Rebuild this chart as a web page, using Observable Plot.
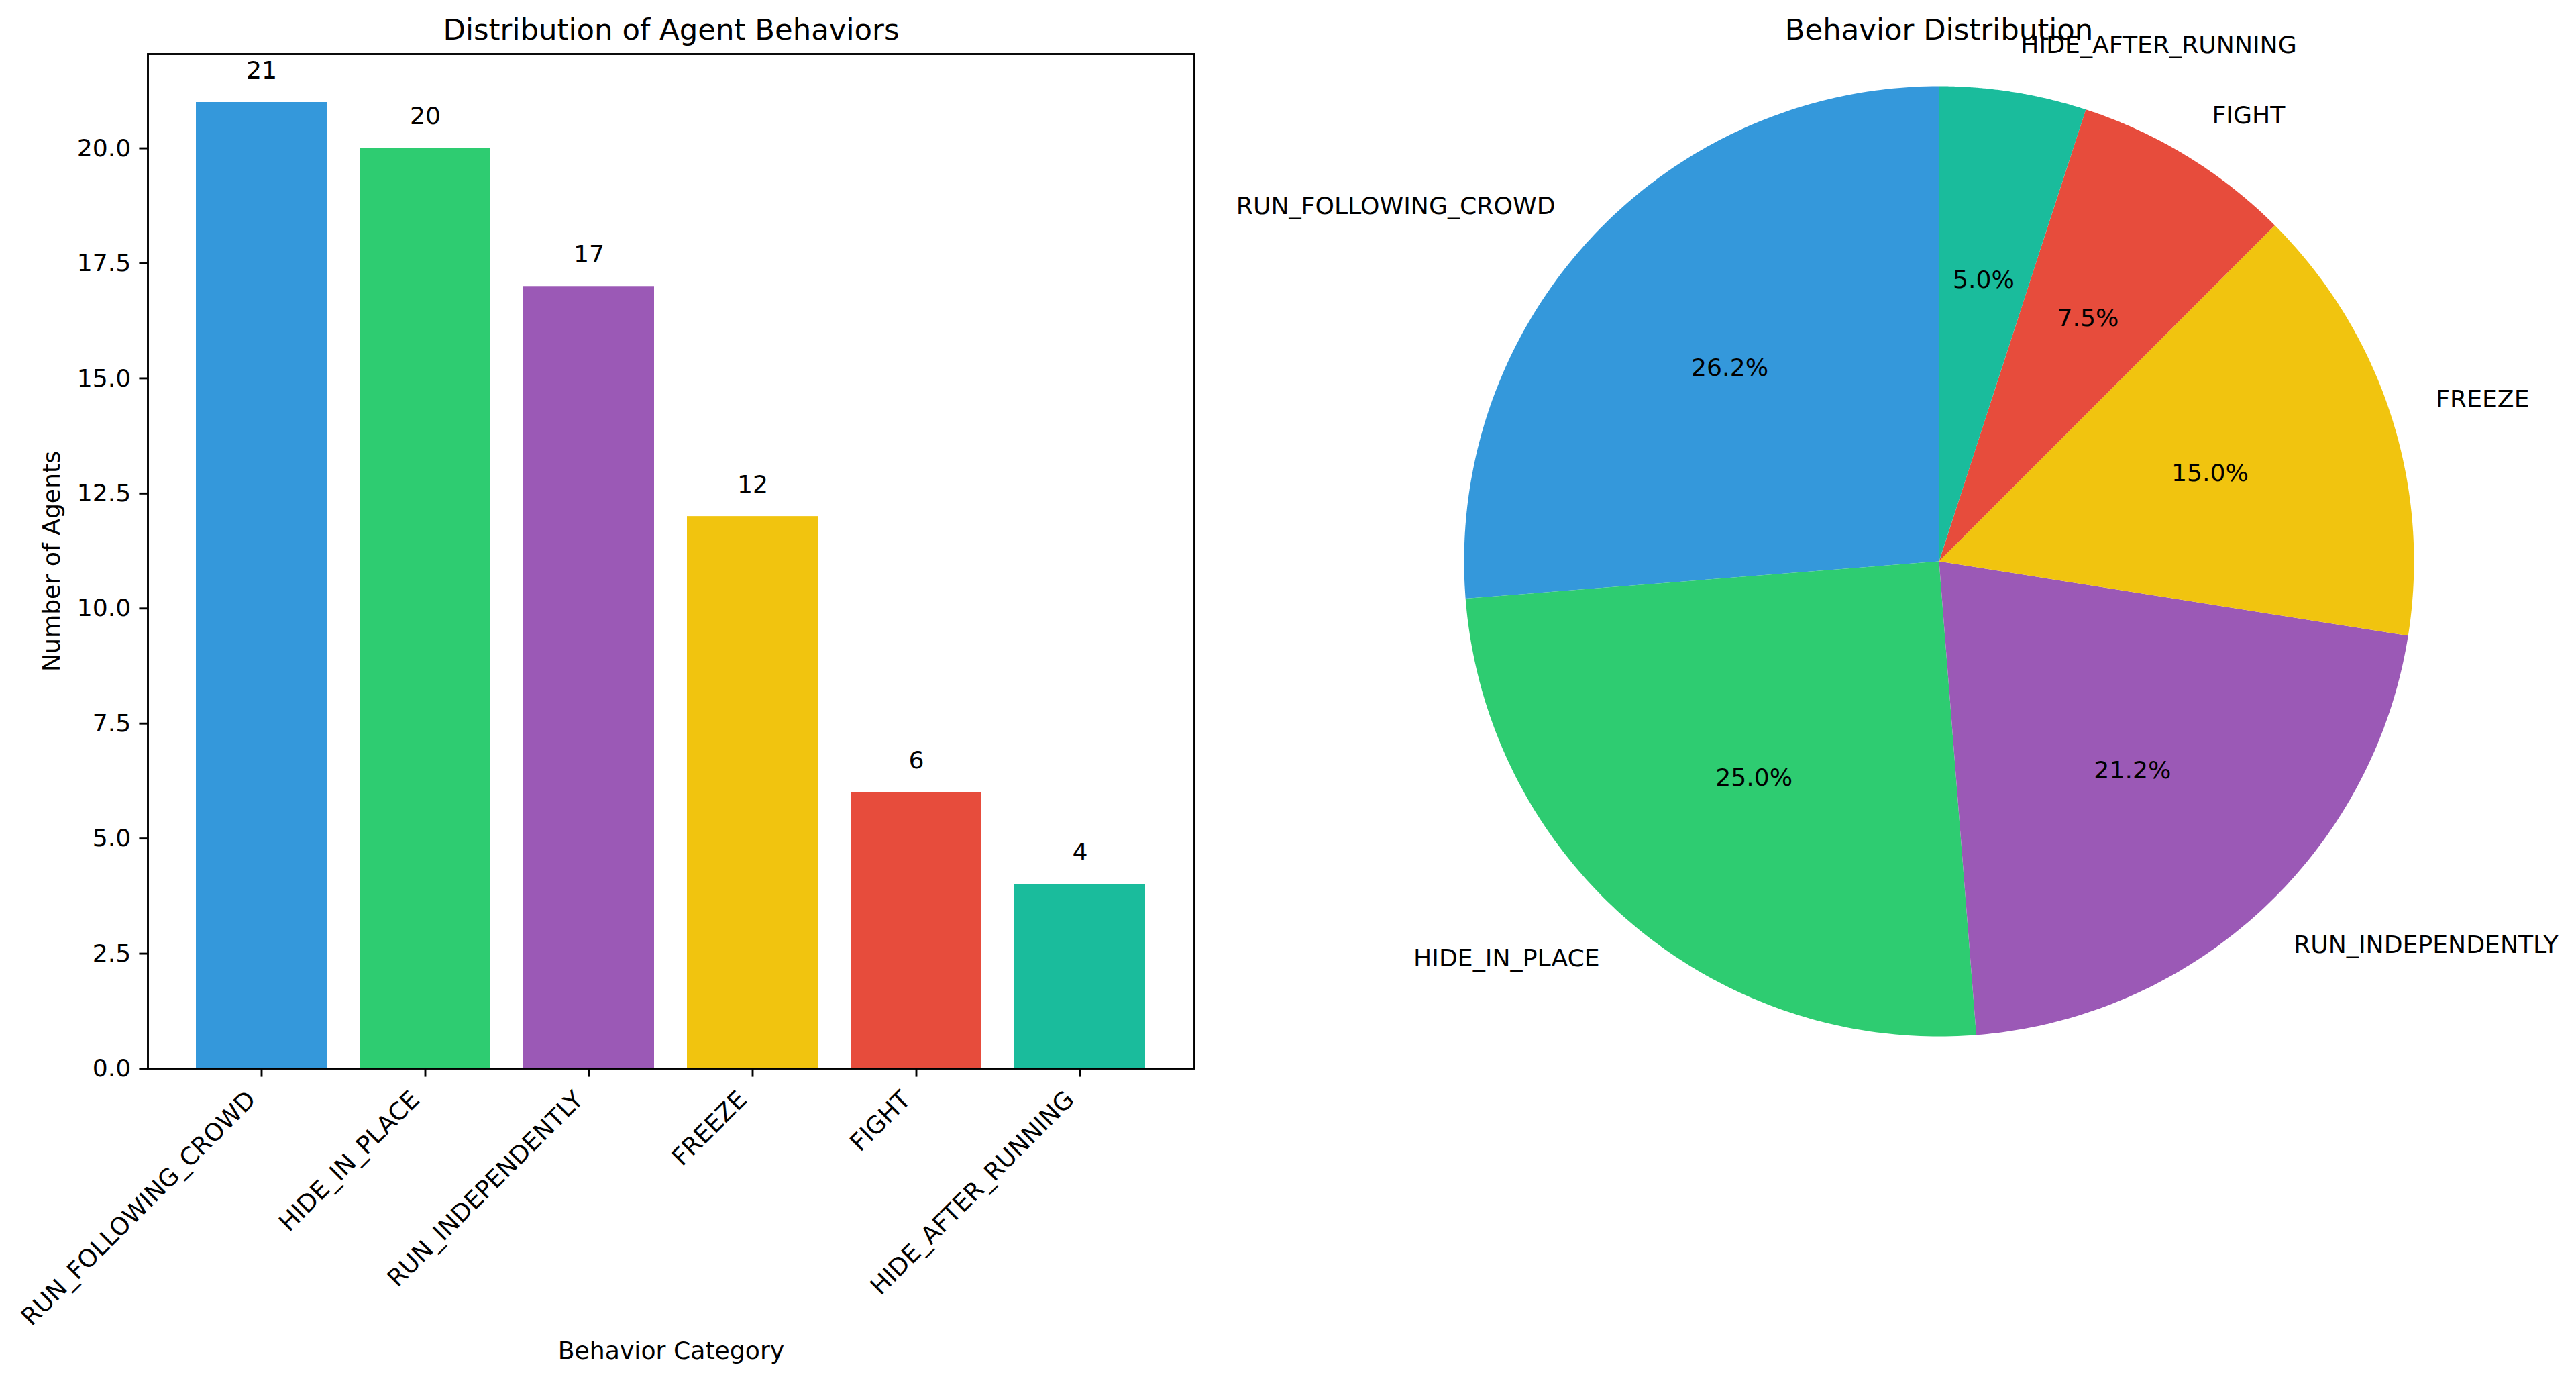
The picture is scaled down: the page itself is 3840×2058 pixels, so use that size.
<!DOCTYPE html>
<html>
<head>
<meta charset="utf-8">
<script src="https://cdn.jsdelivr.net/npm/d3@7"></script>
<script src="https://cdn.jsdelivr.net/npm/@observablehq/plot@0.6"></script>
<style>
  html, body { margin: 0; padding: 0; background: white; }
  #wrap { position: relative; width: 3840px; height: 2058px; background: white; overflow: hidden; }
  #wrap svg { position: absolute; top: 0; overflow: visible; }
</style>
</head>
<body>
<div id="wrap"></div>
<script>
// ---- data ----
const categories = ["RUN_FOLLOWING_CROWD", "HIDE_IN_PLACE", "RUN_INDEPENDENTLY", "FREEZE", "FIGHT", "HIDE_AFTER_RUNNING"];
const counts = [21, 20, 17, 12, 6, 4];
const colors = ["#3498db", "#2ecc71", "#9b59b6", "#f1c40f", "#e74c3c", "#1abc9c"];
const pctLabels = ["26.2%", "25.0%", "21.2%", "15.0%", "7.5%", "5.0%"];
const yTicks = [0, 2.5, 5, 7.5, 10, 12.5, 15, 17.5, 20];
const barTitle = "Distribution of Agent Behaviors";
const pieTitle = "Behavior Distribution";
const xLabel = "Behavior Category";
const yLabel = "Number of Agents";

const rows = categories.map((cat, i) => ({cat, count: counts[i], color: colors[i], pct: pctLabels[i]}));

const FONT = "DejaVu Sans, sans-serif";
const TICK = 12.6, LW = 2.9, FS = 36.2, TS = 43.4;

// ---- bar chart ----
const bar = Plot.plot({
  width: 1800, height: 2058,
  marginLeft: 220, marginRight: 20, marginTop: 80, marginBottom: 466,
  style: {fontFamily: FONT, fontSize: FS + "px", background: "white", color: "black"},
  x: {type: "band", domain: categories, paddingInner: 0.2, paddingOuter: 0.29, align: 0.5},
  y: {domain: [0, 22.05]},
  marks: [
    Plot.barY(rows, {x: "cat", y: "count", fill: "color"}),
    Plot.text(rows, {x: "cat", y: "count", text: d => String(d.count), dy: -47.5, fontSize: FS, fill: "black", lineAnchor: "middle"}),
    Plot.axisY({ticks: yTicks, tickFormat: d3.format(".1f"), tickSize: TICK, tickPadding: TICK, strokeWidth: LW, label: null, fontSize: FS, fill: "black"}),
    Plot.axisX({tickSize: TICK, strokeWidth: LW, tickFormat: () => "", label: null}),
    Plot.text(rows, {x: "cat", frameAnchor: "bottom", text: "cat", rotate: -45, textAnchor: "end", lineAnchor: "middle", dx: -14.9, dy: 40.1, fontSize: FS, fill: "black"}),
    Plot.text([yLabel], {frameAnchor: "left", dx: -143, rotate: -90, textAnchor: "middle", lineAnchor: "middle", fontSize: FS, fill: "black"}),
    Plot.text([xLabel], {frameAnchor: "bottom", dy: 421, textAnchor: "middle", lineAnchor: "middle", fontSize: FS, fill: "black"}),
    Plot.text([barTitle], {frameAnchor: "top", dy: -35, textAnchor: "middle", lineAnchor: "middle", fontSize: TS, fill: "black"}),
    Plot.frame({stroke: "black", strokeWidth: LW})
  ]
});
bar.style.left = "0px";

// ---- pie chart ----
const arcs = d3.pie().value(d => d.count).sort(null).startAngle(0).endAngle(-2 * Math.PI)(rows);
const slicePts = [];
for (const a of arcs) {
  const n = 120;
  slicePts.push({cat: a.data.cat, color: a.data.color, x: 0, y: 0});
  for (let k = 0; k <= n; k++) {
    const t = a.startAngle + (a.endAngle - a.startAngle) * k / n;
    slicePts.push({cat: a.data.cat, color: a.data.color, x: Math.sin(t), y: Math.cos(t)});
  }
  slicePts.push({cat: a.data.cat, color: a.data.color, x: 0, y: 0});
}
const mid = a => (a.startAngle + a.endAngle) / 2;
const PIE_LEFT = 1800;
const cx = 2890 - PIE_LEFT, cy = 836, R = 708;

const pie = Plot.plot({
  width: 2040, height: 2058,
  marginLeft: 0, marginRight: 0, marginTop: 0, marginBottom: 0,
  style: {fontFamily: FONT, fontSize: FS + "px", background: "transparent", color: "black"},
  x: {domain: [-1, 1], range: [cx - R, cx + R], axis: null},
  y: {domain: [-1, 1], range: [cy + R, cy - R], axis: null},
  marks: [
    Plot.line(slicePts, {x: "x", y: "y", z: "cat", fill: "color", stroke: "none", curve: "linear"}),
    Plot.text(arcs, {x: a => 0.6 * Math.sin(mid(a)), y: a => 0.6 * Math.cos(mid(a)), text: a => a.data.pct, fontSize: FS, fill: "black", lineAnchor: "middle"}),
    Plot.text(arcs.filter(a => Math.sin(mid(a)) > 0), {x: a => 1.1 * Math.sin(mid(a)), y: a => 1.1 * Math.cos(mid(a)), text: a => a.data.cat, textAnchor: "start", fontSize: FS, fill: "black", lineAnchor: "middle"}),
    Plot.text(arcs.filter(a => Math.sin(mid(a)) <= 0), {x: a => 1.1 * Math.sin(mid(a)), y: a => 1.1 * Math.cos(mid(a)), text: a => a.data.cat, textAnchor: "end", fontSize: FS, fill: "black", lineAnchor: "middle"}),
    Plot.text([pieTitle], {x: 0, frameAnchor: "top", dy: 45, fontSize: TS, fill: "black", textAnchor: "middle", lineAnchor: "middle"})
  ]
});
pie.style.left = PIE_LEFT + "px";

document.getElementById("wrap").append(bar, pie);
</script>
</body>
</html>
